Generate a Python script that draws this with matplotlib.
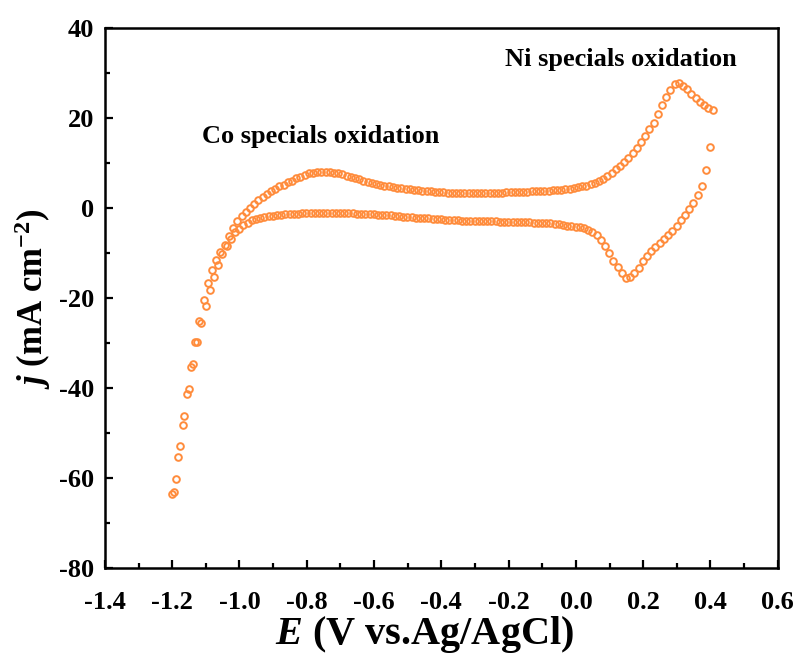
import numpy as np
import matplotlib
matplotlib.use('Agg')
import matplotlib.pyplot as plt
from matplotlib.ticker import MultipleLocator

# 正扫 (阳极) 电流密度, mA cm-2, 从 -1.194 V 到 0.406 V
j_anodic = [
    -63.1, -55.3, -48.1, -41.3, -35.2, -29.8, -25.0, -20.4, -16.7, -13.8,
    -11.5, -9.7, -8.2, -6.3, -4.4, -2.9, -1.8, -0.8, 0.1, 1.0,
    1.8, 2.5, 3.2, 3.8, 4.3, 4.8, 5.2, 5.7, 6.1, 6.6,
    7.0, 7.4, 7.7, 7.9, 8.0, 8.1, 8.1, 8.0, 7.9, 7.7,
    7.5, 7.2, 7.0, 6.7, 6.4, 6.1, 5.8, 5.6, 5.4, 5.2,
    5.0, 4.8, 4.7, 4.5, 4.4, 4.3, 4.2, 4.1, 4.0, 3.9,
    3.8, 3.7, 3.65, 3.6, 3.5, 3.45, 3.4, 3.35, 3.3, 3.3,
    3.3, 3.3, 3.3, 3.35, 3.35, 3.4, 3.4, 3.45, 3.45, 3.5,
    3.5, 3.55, 3.55, 3.6, 3.65, 3.7, 3.75, 3.8, 3.85, 3.9,
    3.95, 4.0, 4.1, 4.2, 4.3, 4.45, 4.6, 4.8, 5.0, 5.3,
    5.6, 6.0, 6.5, 7.1, 7.8, 8.6, 9.4, 10.2, 11.1, 12.2,
    13.4, 14.7, 16.1, 17.6, 19.0, 20.9, 23.0, 24.6, 26.2, 27.5,
    27.8, 27.2, 26.4, 25.4, 24.5, 23.6, 22.9, 22.2, 21.8,
]

# 负扫 (阴极) 电流密度, 从 0.399 V 回到 -1.201 V
j_cathodic = [
    13.6, 8.5, 5.0, 2.8, 1.1, -0.3, -1.5, -2.7, -3.9, -5.0,
    -6.0, -6.9, -7.8, -8.7, -9.6, -10.6, -11.8, -13.2, -14.5, -15.4,
    -15.5, -14.4, -13.1, -11.7, -10.0, -8.4, -7.0, -6.0, -5.3, -4.8,
    -4.5, -4.3, -4.1, -4.0, -3.9, -3.8, -3.6, -3.5, -3.4, -3.35,
    -3.3, -3.25, -3.2, -3.15, -3.1, -3.1, -3.05, -3.0, -3.0, -3.0,
    -3.0, -2.95, -2.95, -2.9, -2.9, -2.9, -2.85, -2.85, -2.8, -2.8,
    -2.75, -2.7, -2.65, -2.6, -2.5, -2.45, -2.4, -2.3, -2.2, -2.15,
    -2.1, -2.0, -1.95, -1.9, -1.8, -1.7, -1.6, -1.55, -1.5, -1.45,
    -1.4, -1.35, -1.3, -1.25, -1.2, -1.15, -1.1, -1.05, -1.0, -1.0,
    -1.0, -1.0, -1.0, -1.0, -1.05, -1.1, -1.1, -1.15, -1.2, -1.25,
    -1.3, -1.35, -1.45, -1.55, -1.65, -1.75, -1.9, -2.1, -2.4, -2.7,
    -3.2, -3.8, -4.6, -5.3, -6.8, -8.4, -10.3, -12.7, -15.4, -18.3,
    -21.7, -25.6, -29.8, -34.7, -40.1, -46.1, -52.8, -60.1, -63.5,
]

# 扫描电位, 每步 12.5 mV
E_anodic = np.linspace(-1.194, 0.406, len(j_anodic))
E_cathodic = np.linspace(0.399, -1.201, len(j_cathodic))

E = np.concatenate([E_anodic, E_cathodic])
j = np.concatenate([j_anodic, j_cathodic])

plt.rcParams['font.family'] = ['Liberation Serif', 'DejaVu Serif']
plt.rcParams['font.weight'] = 'bold'
plt.rcParams['axes.labelweight'] = 'bold'
plt.rcParams['axes.unicode_minus'] = False
plt.rcParams['mathtext.fontset'] = 'custom'
plt.rcParams['mathtext.rm'] = 'Liberation Serif:bold'
plt.rcParams['mathtext.it'] = 'Liberation Serif:bold:italic'
plt.rcParams['mathtext.bf'] = 'Liberation Serif:bold'

fig = plt.figure(figsize=(8.01, 6.67), dpi=100)
ax = fig.add_axes([0.131, 0.148, 0.84, 0.810])

ax.plot(E, j, 'o', mfc='none', mec='#FF8C3C', ms=4.8, mew=1.4)

ax.set_xlim(-1.4, 0.6)
ax.set_ylim(-80, 40)
ax.xaxis.set_major_locator(MultipleLocator(0.2))
ax.xaxis.set_minor_locator(MultipleLocator(0.1))
ax.yaxis.set_major_locator(MultipleLocator(20))
ax.yaxis.set_minor_locator(MultipleLocator(10))
ax.xaxis.set_major_formatter(plt.FuncFormatter(lambda v, p: f'{v:.1f}'))

ax.tick_params(which='both', direction='in', width=1.6, top=False, right=False)
ax.tick_params(which='major', length=6, labelsize=19)
ax.tick_params(axis='x', which='major', pad=16)
ax.tick_params(axis='y', which='major', pad=8)
ax.tick_params(which='minor', length=3.5)
for s in ax.spines.values():
    s.set_linewidth(1.8)

ax.set_xlabel(r'$\mathit{E}$ (V vs.Ag/AgCl)', fontsize=29, labelpad=4)
ax.xaxis.set_label_coords(0.475, -0.085)
ax.set_ylabel(r'$\mathit{j}$ (mA cm$^{\mathregular{-2}}$)', fontsize=25, labelpad=4)

ax.text(-1.112, 14.4, 'Co specials oxidation', fontsize=19)
ax.text(-0.211, 31.6, 'Ni specials oxidation', fontsize=19)

fig.savefig('out.png', dpi=100)
